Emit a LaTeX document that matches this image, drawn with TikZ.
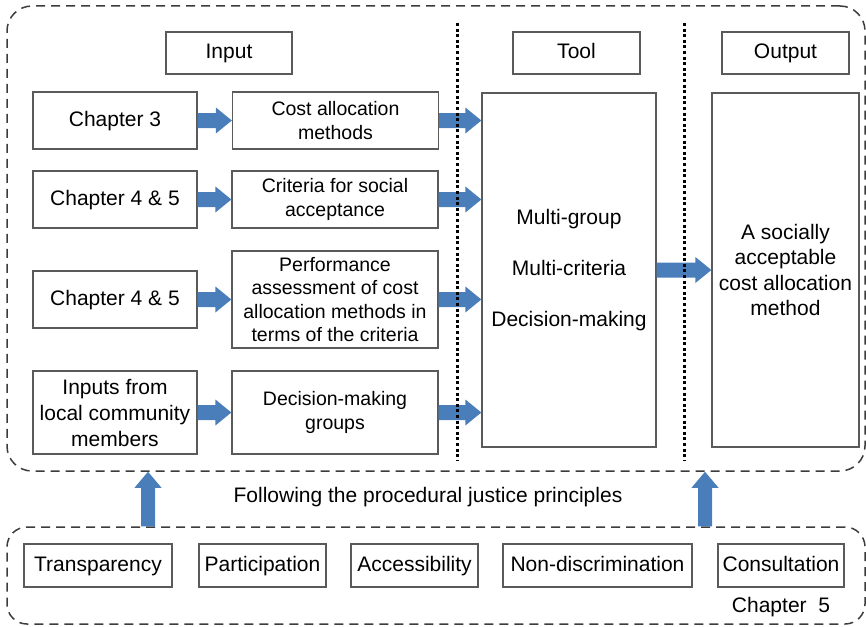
\documentclass[tikz,border=0pt]{standalone}
\usepackage{fontspec}
\setmainfont{Liberation Sans}
\usetikzlibrary{calc}
\definecolor{arrowblue}{RGB}{74,126,187}
\definecolor{boxgray}{RGB}{90,90,90}
\definecolor{dashgray}{RGB}{60,60,60}
\newcommand{\blkright}[2]{\fill[arrowblue] let \p1=(#1),\p2=(#2) in
  (\x1,\y1-7.5pt) -- (\x2-16pt,\y1-7.5pt) -- (\x2-16pt,\y1-13pt) -- (\x2,\y1)
  -- (\x2-16pt,\y1+13pt) -- (\x2-16pt,\y1+7.5pt) -- (\x1,\y1+7.5pt) -- cycle;}
\newcommand{\blkup}[2]{\fill[arrowblue] let \p1=(#1),\p2=(#2) in
  (\x1-7pt,\y1) -- (\x1-7pt,\y2-16pt) -- (\x1-13.5pt,\y2-16pt) -- (\x1,\y2)
  -- (\x1+13.5pt,\y2-16pt) -- (\x1+7pt,\y2-16pt) -- (\x1+7pt,\y1) -- cycle;}
\tikzset{
  gbox/.style={draw=boxgray, line width=1.3pt, fill=white, inner sep=0pt, align=center},
  oneline/.style={text height=15.5pt, text depth=3.5pt},
  leftbox/.style={gbox, minimum width=164pt, font=\fontsize{21}{26}\selectfont},
  midbox/.style={gbox, minimum width=206pt, font=\fontsize{19.5}{23.5}\selectfont},
  headbox/.style={gbox, oneline, minimum width=127pt, minimum height=42pt, font=\fontsize{21}{25}\selectfont},
  princbox/.style={gbox, oneline, minimum height=43pt, font=\fontsize{21}{25}\selectfont},
  dashframe/.style={draw=dashgray, line width=1.5pt, dash pattern=on 9pt off 6pt, inner sep=0pt},
  dotline/.style={draw=black, line width=3pt, dash pattern=on 3pt off 2.6pt},
  plain/.style={inner sep=0pt, oneline, font=\fontsize{21}{25}\selectfont}
}
\begin{document}
\begin{tikzpicture}[x=1pt,y=-1pt]
\useasboundingbox (0,0) rectangle (866,626);
% dashed frames
\node[dashframe, rounded corners=25pt, minimum width=858pt, minimum height=465pt] (top) at (436,238.5) {};
\node[dashframe, rounded corners=20pt, minimum width=858pt, minimum height=97pt] (bot) at (436,575.5) {};
% headings
\node[headbox, minimum width=126pt] (hin) at (229,53) {Input};
\node[headbox] (htool) at (576.5,53) {Tool};
\node[headbox] (hout) at (785.5,53) {Output};
% left column
\node[leftbox, oneline, minimum height=57pt] (c3) at (115,120.5) {Chapter 3};
\node[leftbox, oneline, minimum height=57pt] (c45a) at (115,199.5) {Chapter 4 \& 5};
\node[leftbox, oneline, minimum height=57pt] (c45b) at (115,299.5) {Chapter 4 \& 5};
\node[leftbox, minimum height=83pt] (inp) at (115,412.5) {Inputs from\\local community\\members};
% middle column
\node[midbox, minimum height=57pt] (cost) at (335.5,120.5) {Cost allocation\\methods};
\node[midbox, minimum height=57pt] (crit) at (335,199.5) {Criteria for social\\acceptance};
\node[midbox, minimum height=97pt] (perf) at (335,299.5) {Performance\\assessment of cost\\allocation methods in\\terms of the criteria};
\node[midbox, minimum height=83pt] (dmg) at (335,412.5) {Decision-making\\groups};
% tool and output
\node[gbox, minimum width=174pt, minimum height=354pt, font=\fontsize{21}{51}\selectfont] (tool) at (569,270) {Multi-group\\Multi-criteria\\Decision-making};
\node[gbox, minimum width=147pt, minimum height=354pt, font=\fontsize{21}{25.5}\selectfont] (out) at (785.5,270) {A socially\\acceptable\\cost allocation\\method};
% principles
\node[princbox, minimum width=148pt] (p1) at (98,565.5) {Transparency};
\node[princbox, minimum width=127pt] (p2) at (262.5,565.5) {Participation};
\node[princbox, minimum width=127pt] (p3) at (414.5,565.5) {Accessibility};
\node[princbox, minimum width=189pt] (p4) at (597.5,565.5) {Non-discrimination};
\node[princbox, minimum width=126pt] (p5) at (781,565.5) {Consultation};
\node[plain] (ch5) at (781,606) {Chapter\ \ 5};
\node[plain] (follow) at (428,496) {Following the procedural justice principles};
% block arrows
\blkright{c3.east}{cost.west}
\blkright{c45a.east}{crit.west}
\blkright{c45b.east}{perf.west}
\blkright{inp.east}{dmg.west}
\blkright{cost.east}{cost.east -| tool.west}
\blkright{crit.east}{crit.east -| tool.west}
\blkright{perf.east}{perf.east -| tool.west}
\blkright{dmg.east}{dmg.east -| tool.west}
\blkright{tool.east}{out.west}
\coordinate (ua) at (148,0);
\coordinate (ub) at (705,0);
\blkup{bot.north -| ua}{top.south -| ua}
\blkup{bot.north -| ub}{top.south -| ub}
% dotted separators
\coordinate (d1t) at (457,23); \coordinate (d1b) at (457,460);
\coordinate (d2t) at (684,23); \coordinate (d2b) at (684,460);
\draw[dotline] (d1t) -- (d1b);
\draw[dotline] (d2t) -- (d2b);
\end{tikzpicture}
\end{document}
